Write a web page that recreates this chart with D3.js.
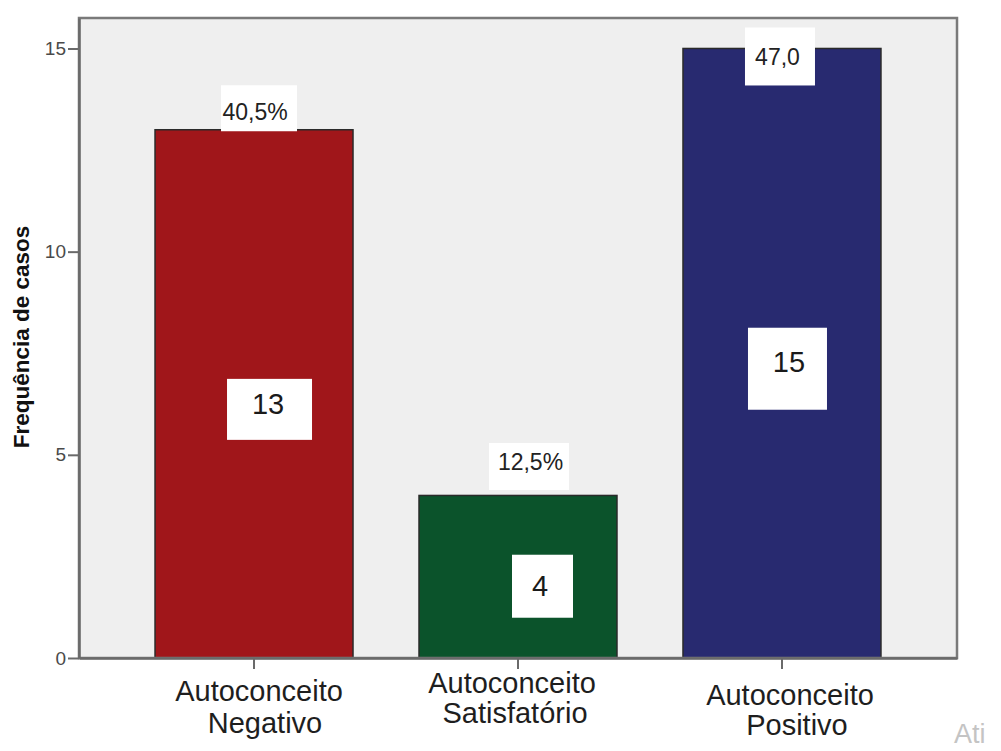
<!DOCTYPE html>
<html>
<head>
<meta charset="utf-8">
<script src="https://cdn.jsdelivr.net/npm/d3@7"></script>
<style>
  html, body { margin: 0; padding: 0; background: #ffffff; }
  svg { display: block; }
  text { font-family: "Liberation Sans", Arial, sans-serif; }
</style>
</head>
<body>
<svg id="chart" width="1001" height="751"></svg>
<script>
// Categories and observed frequencies
const categories = ["Negativo", "Satisfatório", "Positivo"];
const categoryLines = [["Autoconceito", "Negativo"], ["Autoconceito", "Satisfatório"], ["Autoconceito", "Positivo"]];
const counts = [13, 4, 15];
const percentLabels = ["40,5%", "12,5%", "47,0"];
const yTicks = [0, 5, 10, 15];
const barColors = ["#a0161a", "#0b532b", "#282a70"];

// Placement of the annotation boxes relative to each bar (pixels)
const topBoxLayout = [
  { bx: 5, by: -21.5, w: 76, h: 46, tx: 1, ty: -17.5 },
  { bx: 11, by: -29, w: 80, h: 47, tx: 12.5, ty: -33.5 },
  { bx: -2, by: 8, w: 70, h: 58, tx: -4.5, ty: 8.5 }
];
const innerBoxLayout = [
  { bx: 15.5, by: 15.5, w: 85, h: 61, tx: 14, ty: 10 },
  { bx: 24.5, by: 9.5, w: 61, h: 63, tx: 22, ty: 9 },
  { bx: 5.5, by: 15.5, w: 79, h: 82, tx: 7, ty: 9 }
];
const xLabelLayout = [
  [{ dx: 5, y: 701 }, { dx: 11, y: 733 }],
  [{ dx: -6, y: 693 }, { dx: -3, y: 723 }],
  [{ dx: 8, y: 705 }, { dx: 15, y: 735 }]
];

const svg = d3.select("#chart");
const plot = { left: 79, right: 957, top: 18, bottom: 658 };

const x = d3.scaleBand()
  .domain(categories)
  .range([plot.left, plot.right])
  .paddingInner(0.25)
  .paddingOuter(0.288);

const y = d3.scaleLinear()
  .domain([0, 15.75])
  .range([plot.bottom, plot.top]);

// Plot background
svg.append("rect")
  .attr("x", plot.left).attr("y", plot.top)
  .attr("width", plot.right - plot.left)
  .attr("height", plot.bottom - plot.top)
  .attr("fill", "#efefef");

// Bars
svg.append("g").selectAll("rect")
  .data(counts)
  .join("rect")
  .attr("x", (d, i) => x(categories[i]))
  .attr("y", d => y(d))
  .attr("width", x.bandwidth())
  .attr("height", d => y(0) - y(d))
  .attr("fill", (d, i) => barColors[i])
  .attr("stroke", "#2a2a2a")
  .attr("stroke-width", 1.5);

// Frame
svg.append("rect")
  .attr("x", plot.left).attr("y", plot.top)
  .attr("width", plot.right - plot.left)
  .attr("height", plot.bottom - plot.top)
  .attr("fill", "none")
  .attr("stroke", "#7a7a7a")
  .attr("stroke-width", 2.5);

// Y axis
const yAxis = svg.append("g")
  .attr("transform", `translate(${plot.left},0)`)
  .call(d3.axisLeft(y).tickValues(yTicks).tickSize(11).tickSizeOuter(0).tickPadding(2).tickFormat(d3.format("d")));
yAxis.attr("font-size", null).attr("font-family", null);
yAxis.select(".domain").attr("stroke", "#6a6a6a").attr("stroke-width", 2.5);
yAxis.selectAll(".tick line").attr("stroke", "#6a6a6a").attr("stroke-width", 2);
yAxis.selectAll(".tick text")
  .style("font-size", "19px")
  .attr("fill", "#4a4a4a");

// X axis ticks
const xAxis = svg.append("g")
  .attr("transform", `translate(0,${plot.bottom})`)
  .call(d3.axisBottom(x).tickSize(11).tickSizeOuter(0).tickFormat(""));
xAxis.select(".domain").attr("stroke", "#6a6a6a").attr("stroke-width", 2.5);
xAxis.selectAll(".tick line").attr("stroke", "#6a6a6a").attr("stroke-width", 2);

// Category labels
const labelGroups = svg.append("g").selectAll("g")
  .data(categoryLines)
  .join("g");
labelGroups.each(function (lines, i) {
  const c = x(categories[i]) + x.bandwidth() / 2;
  d3.select(this).selectAll("text")
    .data(lines)
    .join("text")
    .attr("x", (d, j) => c + xLabelLayout[i][j].dx)
    .attr("y", (d, j) => xLabelLayout[i][j].y)
    .attr("text-anchor", "middle")
    .attr("font-size", 29)
    .attr("fill", "#1e1e1e")
    .text(d => d);
});

// Y axis title
svg.append("text")
  .attr("transform", "translate(29,337) rotate(-90)")
  .attr("text-anchor", "middle")
  .attr("font-size", 22.5)
  .attr("font-weight", "bold")
  .attr("fill", "#111")
  .text("Frequência de casos");

// Percentage labels above the bars
counts.forEach((v, i) => {
  const c = x(categories[i]) + x.bandwidth() / 2;
  const L = topBoxLayout[i];
  svg.append("rect")
    .attr("x", c + L.bx - L.w / 2)
    .attr("y", y(v) + L.by - L.h / 2)
    .attr("width", L.w).attr("height", L.h)
    .attr("fill", "#ffffff");
  svg.append("text")
    .attr("x", c + L.tx)
    .attr("y", y(v) + L.ty)
    .attr("text-anchor", "middle")
    .attr("dominant-baseline", "central")
    .attr("font-size", 23)
    .attr("fill", "#222")
    .text(percentLabels[i]);
});

// Count labels inside the bars
counts.forEach((v, i) => {
  const c = x(categories[i]) + x.bandwidth() / 2;
  const L = innerBoxLayout[i];
  const mid = y(v / 2);
  svg.append("rect")
    .attr("x", c + L.bx - L.w / 2)
    .attr("y", mid + L.by - L.h / 2)
    .attr("width", L.w).attr("height", L.h)
    .attr("fill", "#ffffff");
  svg.append("text")
    .attr("x", c + L.tx)
    .attr("y", mid + L.ty)
    .attr("text-anchor", "middle")
    .attr("dominant-baseline", "central")
    .attr("font-size", 29)
    .attr("fill", "#1a1a1a")
    .text(String(v));
});

// System watermark fragment in the corner
svg.append("text")
  .attr("x", 954)
  .attr("y", 743)
  .attr("font-size", 27)
  .attr("fill", "#c4c4c4")
  .text("Ati");
</script>
</body>
</html>
